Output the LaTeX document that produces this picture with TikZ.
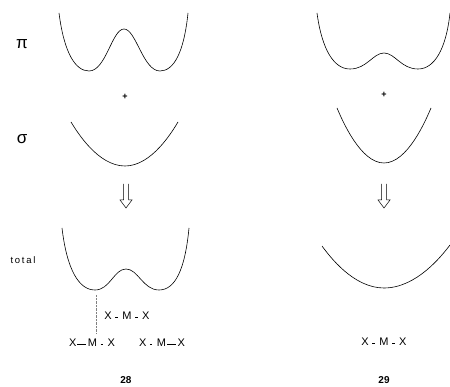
\documentclass[tikz,border=0pt]{standalone}
\usepackage{fontspec}
\setmainfont{Liberation Sans}
\usetikzlibrary{positioning}

% bonds: short (strong) and long (weak)
\newcommand{\sbond}{\hspace{1pt}\rule[0.3ex]{9pt}{1.5pt}\hspace{1.5pt}}
\newcommand{\lbond}{\hspace{3.5pt}\rule[0.35ex]{2.6pt}{0.6pt}\hspace{4.5pt}}

\tikzset{
  curve/.style={line width=0.6pt},
  axlabel/.style={font=\fontsize{17}{20}\selectfont},
  small label/.style={font=\fontsize{9.5}{10}\selectfont\addfontfeature{LetterSpace=18}},
  mol/.style={font=\fontsize{11}{12}\selectfont, inner sep=1pt},
  num/.style={font=\fontsize{10}{12}\selectfont\bfseries},
  hollow arrow/.pic={
    \draw[line width=0.5pt] (-2.5,0) -- (-2.5,16) -- (-6,16) -- (0,24)
      -- (6,16) -- (2.5,16) -- (2.5,0);
  }
}

\begin{document}
\begin{tikzpicture}[x=1pt, y=-1pt]
  \useasboundingbox (0,0) rectangle (450,387);

  % row labels
  \node[axlabel] (pi) at (22,44) {π};
  \node[axlabel] (sigma) at (22,139) {σ};
  \node[small label] (total) at (23,260) {total};

  % ---- 28 ----
  \draw[curve] (59,13) .. controls (64,52) and (75,71) .. (89,71)
    .. controls (106,71) and (112,29) .. (124,29)
    .. controls (136,29) and (143,71) .. (160,71)
    .. controls (174,71) and (184,52) .. (188,13);
  \node[font=\small\bfseries] (plusL) at (125,97) {+};
  \draw[curve] (71,122) parabola bend (125,166) (178,122);
  \pic at (126,184) {hollow arrow};
  \draw[curve] (62,228) .. controls (67,270) and (79,290) .. (95,290)
    .. controls (110,290) and (114,269) .. (126,269)
    .. controls (138,269) and (143,290) .. (159,290)
    .. controls (175,290) and (185,270) .. (189,228);
  \coordinate (minL) at (96,295);

  \node[mol] (symL) at (127,316) {X\lbond M\lbond X};
  \node[mol] (asymL) at (92,343) {X\sbond M\lbond X};
  \node[mol] (asymR) at (162,343) {X\lbond M\sbond X};
  \draw[densely dotted, gray, line width=0.4pt, shorten >=4pt]
    (minL) -- (minL |- asymL.north);
  \node[num] (n28) at (126,380) {28};

  % ---- 29 ----
  \draw[curve] (317,13) .. controls (322,50) and (334,69) .. (350,69)
    .. controls (367,69) and (373,53) .. (384,53)
    .. controls (395,53) and (401,69) .. (418,69)
    .. controls (434,69) and (446,50) .. (450,13);
  \node[font=\small\bfseries] (plusR) at (384,95) {+};
  \draw[curve] (337,108) parabola bend (384,163) (431,108);
  \pic at (384,184) {hollow arrow};
  \draw[curve] (322,246) parabola bend (384,288) (450,245);

  \node[mol] (symR) at (384,342) {X\lbond M\lbond X};
  \node[num] (n29) at (384,380) {29};
\end{tikzpicture}
\end{document}
